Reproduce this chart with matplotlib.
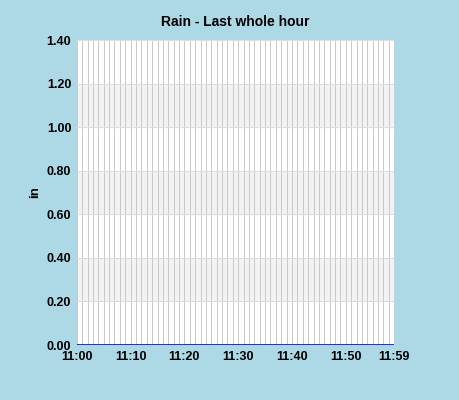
import numpy as np
import matplotlib.pyplot as plt

plt.rcParams["font.family"] = ["Liberation Sans", "DejaVu Sans"]

# rain over the last whole hour, one value per minute (all zero)
minutes = list(range(60))
rain = [0.0] * 60
tick_pos = [0, 10, 20, 30, 40, 50, 59]
tick_labels = ["11:00", "11:10", "11:20", "11:30", "11:40", "11:50", "11:59"]
y_ticks = [0.0, 0.2, 0.4, 0.6, 0.8, 1.0, 1.2, 1.4]

bg = "#add8e6"
fig = plt.figure(figsize=(4.6, 4.0), dpi=100, facecolor=bg)
ax = fig.add_axes([0.167, 0.1375, 0.690, 0.7625])
ax.set_facecolor("white")

# alternating bands
for lo in [0.2, 0.6, 1.0]:
    ax.axhspan(lo, lo + 0.2, color="#f2f2f2", zorder=0)
for m in minutes:
    ax.axvline(m, color="#c8c8c8", linewidth=0.7, zorder=1)
for y in y_ticks:
    ax.axhline(y, color="#dddddd", linewidth=0.7, zorder=1)

ax.plot(minutes, rain, color="blue", linewidth=1.2, zorder=3)

ax.set_xlim(0, 59)
ax.set_ylim(0, 1.4)
ax.set_xticks(tick_pos)
ax.set_xticklabels(tick_labels, fontsize=9, fontweight="bold")
ax.set_yticks(y_ticks)
ax.set_yticklabels(["%.2f" % v for v in y_ticks], fontsize=9, fontweight="bold")
ax.set_ylabel("in", fontsize=9.5, fontweight="bold")
ax.set_title("Rain - Last whole hour", fontsize=10, fontweight="bold", pad=10)
for s in ax.spines.values():
    s.set_visible(False)
ax.tick_params(length=0, pad=4)

plt.savefig("out.png", dpi=100, facecolor=bg)
